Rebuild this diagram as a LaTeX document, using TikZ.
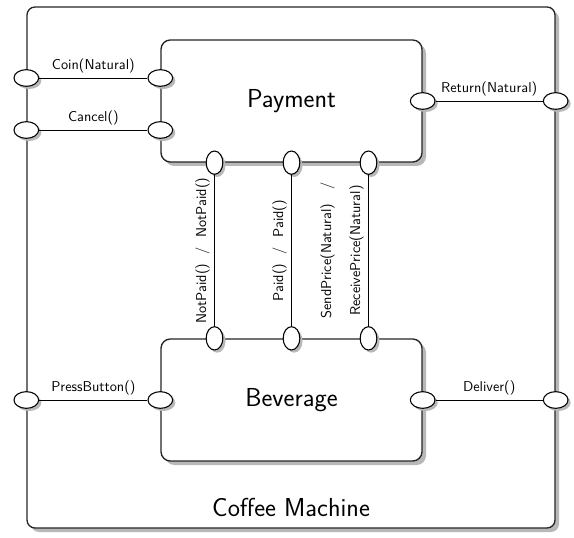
\documentclass[tikz,border=0pt]{standalone}
\usepackage{tikz}
\usetikzlibrary{shapes.geometric,shadows,positioning,calc}

\begin{document}
\begin{tikzpicture}[x=0.75pt,y=-0.75pt,
  comp/.style={draw=black!85,line width=1pt,rounded corners=#1,fill=white,inner sep=0pt,
    drop shadow={shadow xshift=3pt,shadow yshift=-3pt,fill=black!28,opacity=1}},
  comp/.default=7pt,
  hport/.style={ellipse,draw,line width=0.8pt,fill=white,inner sep=0pt,minimum width=18.5pt,minimum height=12.5pt,
    drop shadow={shadow xshift=2pt,shadow yshift=-2pt,fill=black!28,opacity=1}},
  vport/.style={hport,minimum width=12.5pt,minimum height=17.5pt},
  wire/.style={line width=0.6pt},
  sig/.style={font=\sffamily\fontsize{10.7}{12.8}\selectfont},
  title/.style={font=\sffamily\fontsize{19.5}{23}\selectfont}]
\useasboundingbox (0,0) rectangle (574,538);
% components
\node[comp=6pt,minimum width=396pt,minimum height=390.75pt] (cm) at (291,267.5) {};
\node[title] (cmname) at (291,507) {Coffee Machine};
\node[comp,title,minimum width=195.75pt,minimum height=91.5pt] (pay) at (291.5,101) {Payment};
\node[comp,title,minimum width=195.75pt,minimum height=91.5pt] (bev) at (291.5,400) {Beverage};
% ports on the outer boundary
\coordinate (yCoin) at (0,78);
\coordinate (yCancel) at (0,130);
\node[hport] (cmCoin) at (cm.west |- yCoin) {};
\node[hport] (cmCancel) at (cm.west |- yCancel) {};
\node[hport] (cmPress) at (cm.west |- bev.west) {};
\node[hport] (cmReturn) at (cm.east |- pay.east) {};
\node[hport] (cmDeliver) at (cm.east |- bev.east) {};
% ports of Payment and Beverage
\node[hport] (payCoin) at (pay.west |- yCoin) {};
\node[hport] (payCancel) at (pay.west |- yCancel) {};
\node[hport] (payReturn) at (pay.east) {};
\node[vport] (payNot) at ($(pay.south)+(-77,0)$) {};
\node[vport] (payPaid) at (pay.south) {};
\node[vport] (payPrice) at ($(pay.south)+(77,0)$) {};
\node[hport] (bevPress) at (bev.west) {};
\node[hport] (bevDeliver) at (bev.east) {};
\node[vport] (bevNot) at (bev.north -| payNot) {};
\node[vport] (bevPaid) at (bev.north -| payPaid) {};
\node[vport] (bevPrice) at (bev.north -| payPrice) {};
% connectors
\draw[wire] (cmCoin) -- node[sig,above]{Coin(Natural)} (payCoin);
\draw[wire] (cmCancel) -- node[sig,above]{Cancel()} (payCancel);
\draw[wire] (payReturn) -- node[sig,above]{Return(Natural)} (cmReturn);
\draw[wire] (cmPress) -- node[sig,above]{PressButton()} (bevPress);
\draw[wire] (bevDeliver) -- node[sig,above]{Deliver()} (cmDeliver);
\draw[wire] (bevNot) -- node[sig,rotate=90,anchor=south]{NotPaid()\ \ /\ \ NotPaid()} (payNot);
\draw[wire] (bevPaid) -- node[sig,rotate=90,anchor=south]{Paid()\ \ /\ \ Paid()} (payPaid);
\draw[wire] (bevPrice) -- node[sig,rotate=90,anchor=south,align=center]{SendPrice(Natural)\ \ \ /\\[9pt]ReceivePrice(Natural)} (payPrice);
\end{tikzpicture}
\end{document}
